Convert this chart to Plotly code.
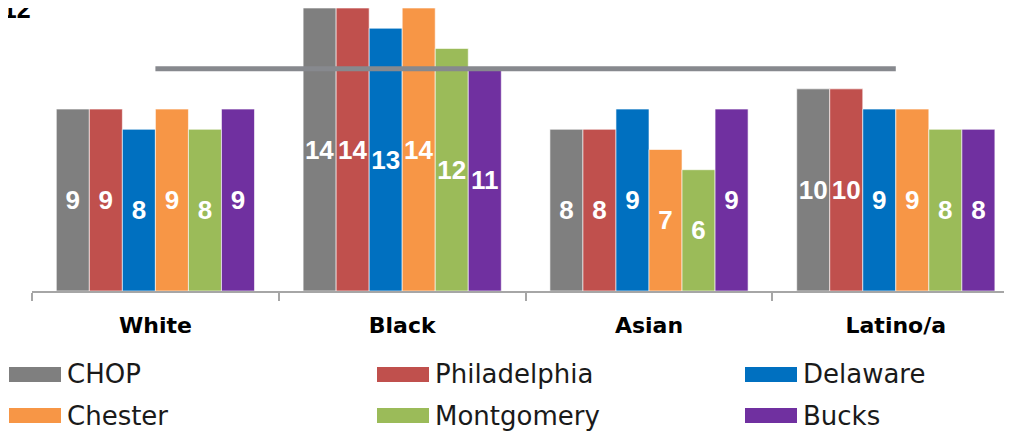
import plotly.graph_objects as go

categories = ["White", "Black", "Asian", "Latino/a"]
series_names = ["CHOP", "Philadelphia", "Delaware", "Chester", "Montgomery", "Bucks"]
chop = [9, 14, 8, 10]
philadelphia = [9, 14, 8, 10]
delaware = [8, 13, 9, 9]
chester = [9, 14, 7, 9]
montgomery = [8, 12, 6, 8]
bucks = [9, 11, 9, 8]
target = [11, 11, 11, 11]
colors = ["#7F7F7F", "#C0504D", "#0070C0", "#F79646", "#9BBB59", "#7030A0"]
values = [chop, philadelphia, delaware, chester, montgomery, bucks]

# page body has an 8px margin; work in figure coordinates (reference - 8)
OFF = 8
W, H = 1012 - OFF, 432 - OFF
ML, MR, MT, MB = 32 - OFF, 0, 0, H - (291 - OFF)
PW, PH = W - ML - MR, H - MT - MB

def px(x):
    return (x - OFF - ML) / PW

def py(y):
    return (H - MB - (y - OFF)) / PH

LABEL_FONT = "Liberation Sans, Arial, sans-serif"

fig = go.Figure()
for name, vals, col in zip(series_names, values, colors):
    fig.add_trace(go.Bar(
        name=name, x=categories, y=vals, marker_color=col,
        marker_line=dict(color="rgba(255,255,255,0.6)", width=1),
        text=[str(v) for v in vals], textposition="inside",
        insidetextanchor="middle", textangle=0, constraintext="none",
        textfont=dict(family=LABEL_FONT, size=26, color="white", weight="bold"),
        showlegend=False,
    ))

fig.add_trace(go.Scatter(
    x=categories, y=target, mode="lines",
    line=dict(color="#87898E", width=5), showlegend=False,
))

shapes = []
annotations = []
legend_cols = [9, 377, 745]
legend_rows = [374.5, 415.5]
for i, (name, col) in enumerate(zip(series_names, colors)):
    cx = legend_cols[i % 3]
    cy = legend_rows[i // 3]
    shapes.append(dict(type="rect", xref="paper", yref="paper",
                       x0=px(cx), x1=px(cx + 52), y0=py(cy + 7.5), y1=py(cy - 7.5),
                       fillcolor=col, line=dict(width=0)))
    annotations.append(dict(xref="paper", yref="paper", x=px(cx + 56), y=py(cy),
                            xanchor="left", yanchor="middle", text=name, showarrow=False,
                            font=dict(family="DejaVu Sans", size=26, color="#1a1a1a")))

annotations.append(dict(xref="paper", yref="paper", x=px(33), y=py(25),
                        xanchor="right", yanchor="bottom", text="2012", showarrow=False,
                        font=dict(family=LABEL_FONT, size=25, color="black", weight="bold")))

fig.update_layout(
    width=W, height=H,
    margin=dict(l=ML, r=MR, t=MT, b=MB),
    barmode="group", bargap=0.197, bargroupgap=0,
    plot_bgcolor="white", paper_bgcolor="white",
    shapes=shapes, annotations=annotations,
    xaxis=dict(range=[-0.5, -0.5 + PW / 246.8], showline=True, linecolor="#A6A6A6", linewidth=2,
               ticks="outside", tickson="boundaries", ticklen=8, tickcolor="#A6A6A6",
               tickwidth=2, ticklabelstandoff=14,
               tickfont=dict(family="DejaVu Sans", size=22, color="black", weight="bold"),
               showgrid=False, zeroline=False),
    yaxis=dict(range=[0, 14], visible=False, showgrid=False, zeroline=False),
    showlegend=False,
)

fig.write_html("out.html")
